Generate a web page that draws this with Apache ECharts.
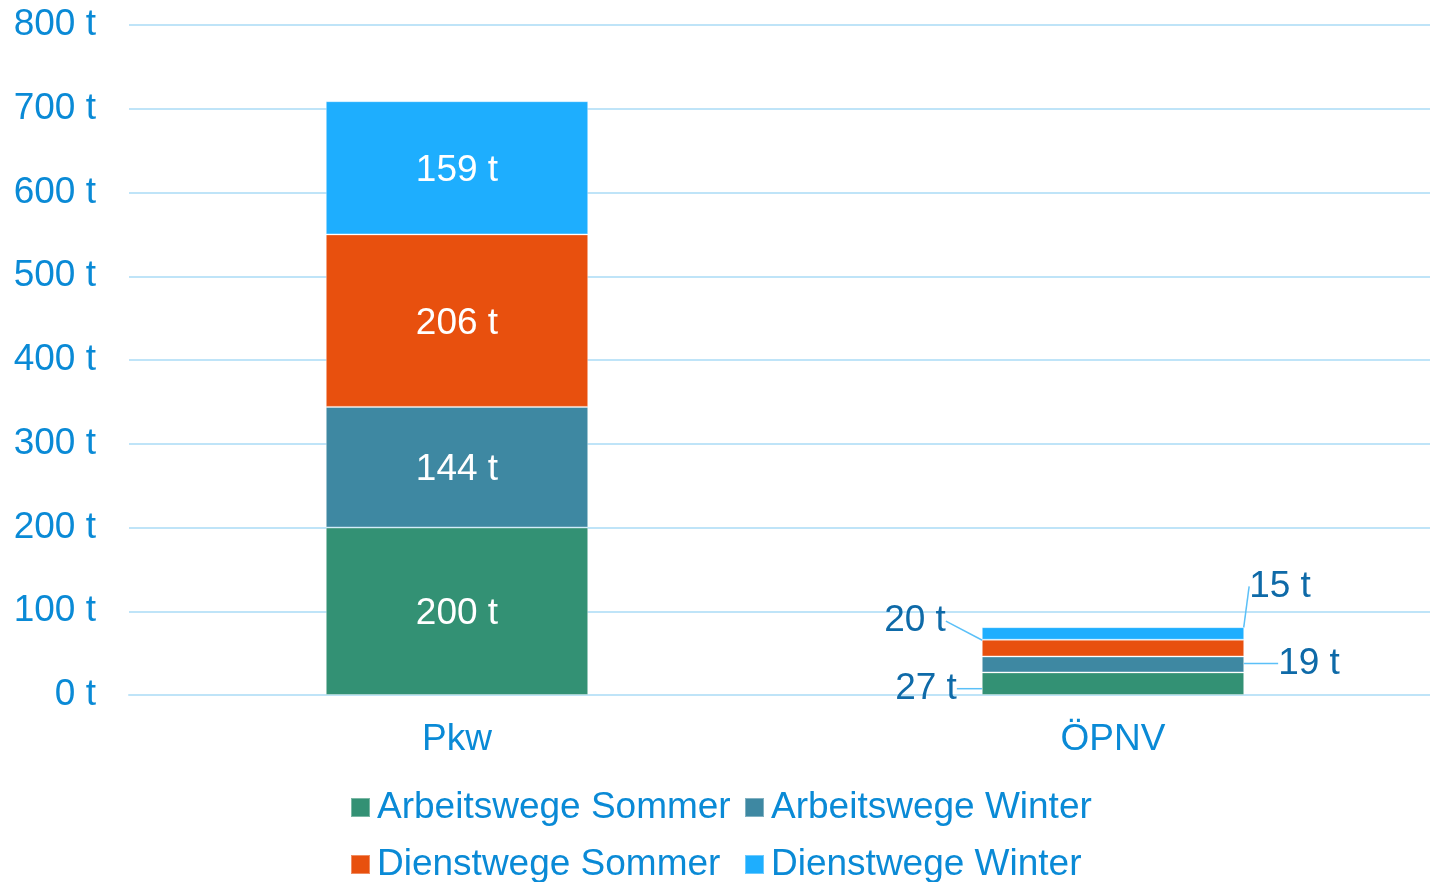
<!DOCTYPE html>
<html>
<head>
<meta charset="utf-8">
<title>Emissionen Pkw / ÖPNV</title>
<script src="https://cdn.jsdelivr.net/npm/echarts@6/dist/echarts.min.js"></script>
<style>
  html, body { margin: 0; padding: 0; background: #fff; }
  #chart { width: 1430px; height: 882px; }
</style>
</head>
<body>
<div id="chart"></div>
<script>
// Kategorien und Werte (t)
const categories = ['Pkw', 'ÖPNV']
const seriesNames = ['Arbeitswege Sommer', 'Arbeitswege Winter', 'Dienstwege Sommer', 'Dienstwege Winter']
const arbeitSommer = [200, 27]
const arbeitWinter = [144, 19]
const dienstSommer = [206, 20]
const dienstWinter = [159, 15]
const yTicks = [0, 100, 200, 300, 400, 500, 600, 700, 800]

const colors = ['#339174', '#3e88a2', '#e8500e', '#1eaefe']
const font = '"Liberation Sans", Arial, sans-serif'
const fs = 37

// Verschiebung der Beschriftungen am ÖPNV-Balken
const outerShift = [
  { dx: -187, dy: 5 },
  { dx: 196, dy: -1 },
  { dx: -198, dy: -27 },
  { dx: 167, dy: -47 }
]

const chart = echarts.init(document.getElementById('chart'))

const makeSeries = (name, data, i) => ({
  name: name,
  type: 'bar',
  stack: 'total',
  barWidth: '40%',
  data: data.map((v, k) => k === 1 ? {
    value: v,
    label: { color: '#0e6aa8', padding: [0, 10] },
    labelLine: { show: true }
  } : v),
  itemStyle: {
    color: colors[i],
    borderColor: 'rgba(255,255,255,0.35)',
    borderWidth: 1
  },
  label: {
    show: true,
    position: 'inside',
    formatter: '{c} t',
    color: '#ffffff',
    fontSize: fs,
    fontFamily: font
  },
  labelLine: {
    show: false,
    lineStyle: { color: '#5bc0f8', width: 1.5 }
  },
  labelLayout: (params) => {
    if (params.dataIndex !== 1) return { dy: 3 }
    return { dx: outerShift[i].dx, dy: outerShift[i].dy }
  }
})

const option = {
  animation: false,
  color: colors,
  grid: {
    left: 129,
    right: -11,
    top: 25,
    bottom: 187,
    outerBoundsMode: 'none'
  },
  legend: {
    data: seriesNames,
    left: 345,
    top: 780,
    width: 820,
    itemWidth: 19,
    itemHeight: 19,
    itemGap: 12,
    icon: 'rect',
    textStyle: {
      color: '#0a8ad6',
      fontSize: fs,
      fontFamily: font,
      width: 355,
      lineHeight: 45,
      padding: [0, 0, 0, 2]
    }
  },
  xAxis: {
    type: 'category',
    data: categories,
    axisLine: { show: true, lineStyle: { color: '#bfe4f8', width: 2 } },
    axisTick: { show: false },
    axisLabel: {
      color: '#0a8ad6',
      fontSize: fs,
      fontFamily: font,
      margin: 26
    }
  },
  yAxis: {
    type: 'value',
    min: yTicks[0],
    max: yTicks[yTicks.length - 1],
    interval: yTicks[1] - yTicks[0],
    axisLine: { show: false },
    axisTick: { show: false },
    splitLine: { lineStyle: { color: '#bfe4f8', width: 2 } },
    axisLabel: {
      formatter: '{value} t',
      color: '#0a8ad6',
      fontSize: fs,
      fontFamily: font,
      margin: 33
    }
  },
  series: [
    makeSeries(seriesNames[0], arbeitSommer, 0),
    makeSeries(seriesNames[1], arbeitWinter, 1),
    makeSeries(seriesNames[2], dienstSommer, 2),
    makeSeries(seriesNames[3], dienstWinter, 3)
  ]
}

chart.setOption(option)
window.addEventListener('resize', () => chart.resize())
</script>
</body>
</html>
